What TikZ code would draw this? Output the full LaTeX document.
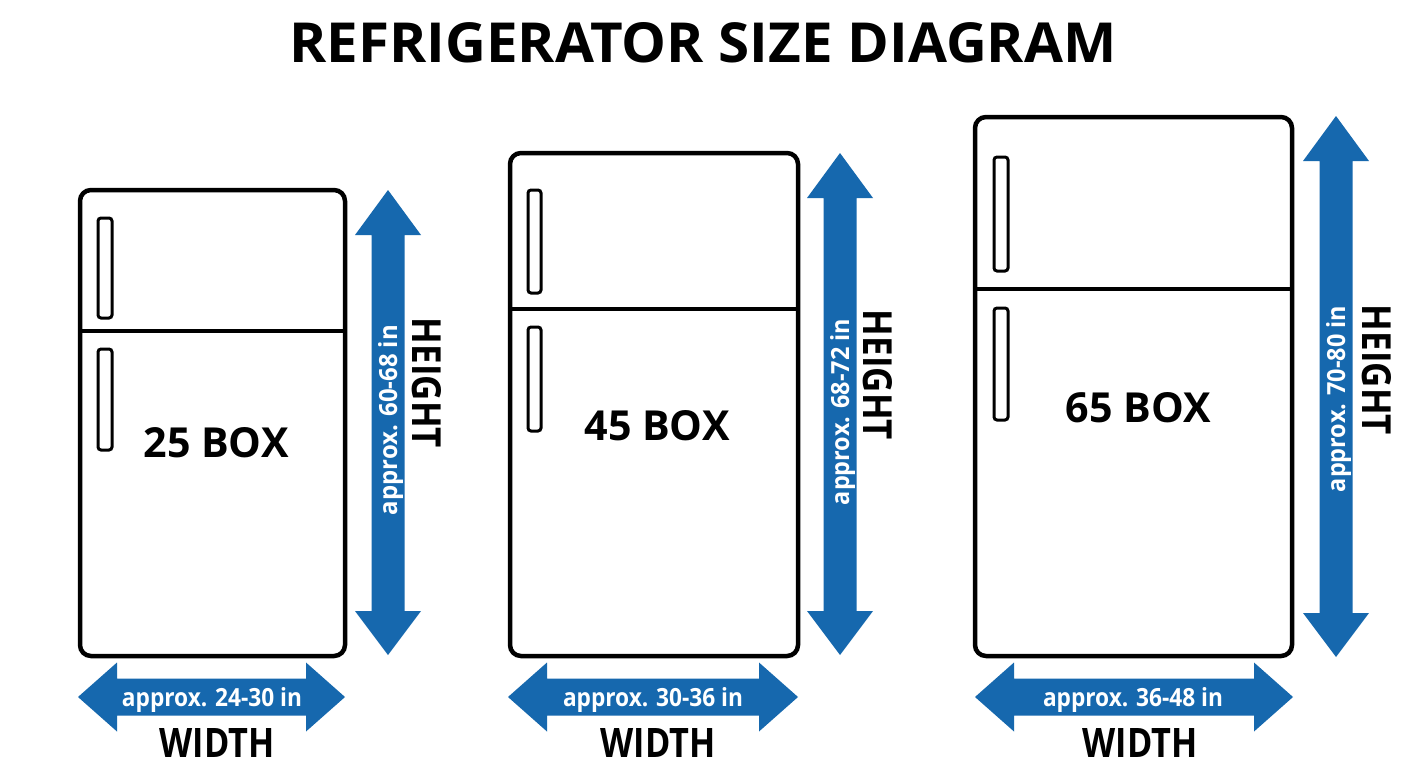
\documentclass[tikz,border=0pt]{standalone}
\usepackage{fontspec}
\setmainfont{Open Sans}
\usepackage{graphicx}
\definecolor{dimblue}{RGB}{22,104,174}
\newcommand\fitbox[3]{\resizebox{#1pt}{#2pt}{\bfseries #3}}
\newcommand\vdimarrow[3]{%
  \fill[dimblue] (#1,#2) -- ({#1+33},{#2+45}) -- ({#1+16.5},{#2+45}) -- ({#1+16.5},{#3-44}) -- ({#1+33},{#3-44}) -- (#1,#3) -- ({#1-33},{#3-44}) -- ({#1-16.5},{#3-44}) -- ({#1-16.5},{#2+45}) -- ({#1-33},{#2+45}) -- cycle;}
\newcommand\hdimarrow[3]{%
  \fill[dimblue] (#1,#3) -- ({#1+39},{#3-34.5}) -- ({#1+39},{#3-18.5}) -- ({#2-39},{#3-18.5}) -- ({#2-39},{#3-34.5}) -- (#2,#3) -- ({#2-39},{#3+34.5}) -- ({#2-39},{#3+18.5}) -- ({#1+39},{#3+18.5}) -- ({#1+39},{#3+34.5}) -- cycle;}
\begin{document}
\begin{tikzpicture}[x=1pt,y=-1pt,
  fridge/.style={draw=black, line width=4.5pt, rounded corners=11pt, fill=white},
  divider/.style={draw=black, line width=4pt},
  handle/.style={draw=black, line width=3pt, rounded corners=3pt},
  lbl/.style={inner sep=0pt, outer sep=0pt, text=black},
  wlbl/.style={inner sep=0pt, outer sep=0pt, text=white}]
\fill[white] (0,0) rectangle (1408,768);
\useasboundingbox (0,0) rectangle (1408,768);

% title
\node[lbl, anchor=base] (title) at (703,62) {\fitbox{827}{40}{REFRIGERATOR SIZE DIAGRAM}};

% fridge 1
\draw[fridge] (80,190) rectangle (345,656);
\draw[divider] (80,331) -- (345,331);
\draw[handle] (98,218) rectangle (112,318);
\draw[handle] (98,349) rectangle (112,450);
\node[lbl, anchor=base] (box25) at (216,457) {\fitbox{145}{30}{25 BOX}};
\vdimarrow{388}{190}{655}
\node[wlbl, anchor=base, rotate=90] (h25) at (397,420) {\fitbox{190}{19}{approx. 60-68 in}};
\node[lbl, anchor=base, rotate=-90] (ht25) at (412,383) {\fitbox{130}{29}{HEIGHT}};
\hdimarrow{78}{345}{697}
\node[wlbl, anchor=base] (w25) at (212,706) {\fitbox{180}{19}{approx. 24-30 in}};
\node[lbl, anchor=base] (wt25) at (217,757) {\fitbox{115}{29}{WIDTH}};

% fridge 2
\draw[fridge] (510,153) rectangle (798,656);
\draw[divider] (510,309) -- (798,309);
\draw[handle] (528,190) rectangle (541,293);
\draw[handle] (528,327) rectangle (541,431);
\node[lbl, anchor=base] (box45) at (657,440) {\fitbox{145}{30}{45 BOX}};
\vdimarrow{840}{153}{655}
\node[wlbl, anchor=base, rotate=90] (h45) at (849,412) {\fitbox{186}{19}{approx. 68-72 in}};
\node[lbl, anchor=base, rotate=-90] (ht45) at (863,375) {\fitbox{130}{29}{HEIGHT}};
\hdimarrow{508}{798}{697}
\node[wlbl, anchor=base] (w45) at (653,706) {\fitbox{180}{19}{approx. 30-36 in}};
\node[lbl, anchor=base] (wt45) at (658,757) {\fitbox{115}{29}{WIDTH}};

% fridge 3
\draw[fridge] (975,117) rectangle (1292,656);
\draw[divider] (975,289) -- (1292,289);
\draw[handle] (994,157) rectangle (1008,271);
\draw[handle] (994,308) rectangle (1008,420);
\node[lbl, anchor=base] (box65) at (1138,422) {\fitbox{145}{30}{65 BOX}};
\vdimarrow{1336}{116}{657}
\node[wlbl, anchor=base, rotate=90] (h65) at (1345,399) {\fitbox{186}{19}{approx. 70-80 in}};
\node[lbl, anchor=base, rotate=-90] (ht65) at (1362,370) {\fitbox{130}{29}{HEIGHT}};
\hdimarrow{975}{1293}{697}
\node[wlbl, anchor=base] (w65) at (1133,706) {\fitbox{180}{19}{approx. 36-48 in}};
\node[lbl, anchor=base] (wt65) at (1140,757) {\fitbox{115}{29}{WIDTH}};
\end{tikzpicture}
\end{document}
